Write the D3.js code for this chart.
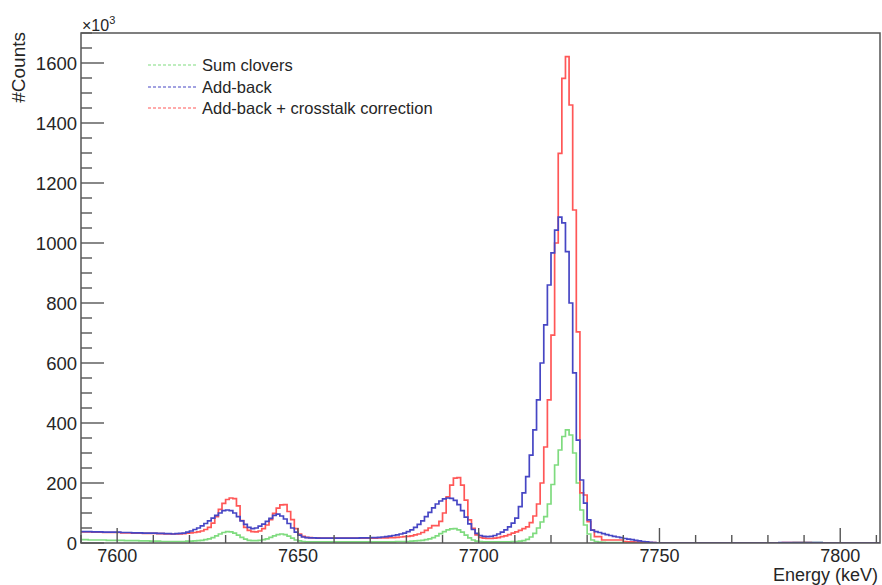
<!DOCTYPE html>
<html>
<head>
<meta charset="utf-8">
<script src="https://cdn.jsdelivr.net/npm/d3@7"></script>
<style>
  body { margin: 0; background: #fff; }
  svg text { font-family: "Liberation Sans", Arial, Helvetica, sans-serif; fill: #262626; }
</style>
</head>
<body>
<div id="chart"></div>
<script>
// Histogram binning: 1 keV bins, first bin starts at 7590 keV
var binStart = 7590,
  binWidth = 1;

// Counts per bin, in units of 10^3
var sumClovers = [
  11, 11, 10, 10, 10, 10, 10, 9, 9, 9, // 7590
  9, 9, 8, 8, 8, 8, 7, 7, 7, 6, // 7600
  6, 6, 5, 5, 5, 5, 5, 5, 5, 6, // 7610
  6, 7, 8, 9, 11, 14, 18, 24, 30, 35, // 7620
  38, 37, 33, 26, 19, 13, 9, 8, 8, 9, // 7630
  11, 14, 19, 24, 28, 30, 28, 23, 16, 10, // 7640
  7, 5, 4, 4, 4, 4, 4, 4, 4, 4, // 7650
  4, 4, 4, 4, 4, 4, 4, 4, 4, 4, // 7660
  4, 4, 4, 4, 4, 4, 4, 5, 5, 5, // 7670
  5, 6, 7, 8, 9, 11, 14, 18, 24, 31, // 7680
  38, 44, 47, 48, 44, 36, 26, 17, 10, 6, // 7690
  5, 4, 4, 4, 4, 4, 4, 4, 4, 5, // 7700
  5, 6, 8, 12, 20, 32, 50, 70, 88, 130, // 7710
  195, 260, 310, 355, 377, 360, 300, 200, 110, 60, // 7720
  30, 10, 5, 3, 2, 1, 1, 1, 1, 1, // 7730
  1, 1, 1, 1, 1, 0, 0, 0, 0, 0, // 7740
  0, 0, 0, 0, 0, 0, 0, 0, 0, 0, // 7750
  0, 0, 0, 0, 0, 0, 0, 0, 0, 0, // 7760
  0, 0, 0, 0, 0, 0, 0, 0, 0, 0, // 7770
  0, 0, 0, 0, 0, 0, 0, 1, 1, 1, // 7780
  1, 1, 1, 1, 1, 0, 0, 0, 0, 0, // 7790
  0, 0, 0, 0, 0, 0, 0, 0, 0, 0, // 7800
  0 // 7810
];

var addBack = [
  38, 38, 38, 37, 37, 37, 36, 36, 36, 36, // 7590
  36, 35, 35, 35, 34, 34, 34, 33, 33, 33, // 7600
  33, 32, 32, 31, 31, 30, 31, 32, 33, 36, // 7610
  40, 45, 50, 57, 65, 74, 83, 92, 100, 108, // 7620
  110, 108, 100, 88, 74, 62, 52, 48, 50, 56, // 7630
  63, 72, 82, 92, 96, 90, 80, 65, 50, 36, // 7640
  26, 20, 18, 17, 17, 16, 16, 16, 16, 16, // 7650
  16, 16, 16, 16, 16, 16, 16, 17, 17, 17, // 7660
  18, 18, 19, 20, 21, 23, 25, 27, 30, 33, // 7670
  38, 44, 52, 62, 74, 88, 102, 117, 130, 140, // 7680
  147, 150, 149, 142, 128, 108, 86, 64, 45, 32, // 7690
  25, 22, 21, 22, 25, 30, 36, 44, 54, 66, // 7700
  83, 121, 167, 221, 293, 377, 477, 600, 727, 860, // 7710
  967, 1043, 1086, 1067, 971, 800, 567, 343, 210, 133, // 7720
  77, 43, 38, 35, 31, 28, 25, 22, 20, 18, // 7730
  15, 13, 11, 9, 7, 5, 4, 2, 1, 0, // 7740
  0, 0, 0, 0, 0, 0, 0, 0, 0, 0, // 7750
  0, 0, 0, 0, 0, 0, 0, 0, 0, 0, // 7760
  0, 0, 0, 0, 0, 0, 0, 0, 0, 0, // 7770
  0, 0, 0, 1, 1, 1, 1, 1, 1, 1, // 7780
  1, 1, 1, 1, 1, 0, 0, 0, 0, 0, // 7790
  0, 0, 0, 0, 0, 0, 0, 0, 0, 0, // 7800
  0 // 7810
];

var addBackCrosstalk = [
  37, 37, 37, 36, 36, 36, 35, 35, 35, 35, // 7590
  35, 34, 34, 34, 33, 33, 33, 32, 32, 32, // 7600
  32, 31, 31, 30, 30, 30, 30, 30, 31, 33, // 7610
  34, 35, 37, 40, 45, 52, 66, 88, 112, 132, // 7620
  145, 150, 148, 124, 75, 52, 42, 38, 37, 40, // 7630
  48, 60, 78, 99, 116, 127, 128, 105, 78, 48, // 7640
  30, 22, 19, 18, 17, 17, 16, 16, 16, 16, // 7650
  16, 16, 16, 16, 16, 16, 16, 16, 16, 16, // 7660
  16, 16, 17, 17, 17, 18, 18, 19, 20, 21, // 7670
  22, 24, 27, 30, 35, 42, 50, 58, 58, 72, // 7680
  100, 154, 193, 216, 218, 193, 143, 77, 49, 27, // 7690
  19, 16, 15, 15, 16, 18, 21, 24, 28, 33, // 7700
  37, 42, 48, 54, 68, 90, 130, 200, 320, 477, // 7710
  693, 1000, 1299, 1549, 1621, 1460, 1110, 704, 167, 160, // 7720
  71, 43, 21, 21, 10, 10, 10, 10, 10, 10, // 7730
  5, 4, 4, 3, 3, 2, 2, 1, 1, 0, // 7740
  0, 0, 0, 0, 0, 0, 0, 0, 0, 0, // 7750
  0, 0, 0, 0, 0, 0, 0, 0, 0, 0, // 7760
  0, 0, 0, 0, 0, 0, 0, 0, 0, 0, // 7770
  0, 0, 0, 0, 1, 1, 1, 1, 1, 1, // 7780
  1, 1, 0, 0, 0, 0, 0, 0, 0, 0, // 7790
  0, 0, 0, 0, 0, 0, 0, 0, 0, 0, // 7800
  0 // 7810
];

var seriesNames = ['Sum clovers', 'Add-back', 'Add-back + crosstalk correction'];
var seriesColors = ['#7fdb7f', '#4646c4', '#ff5757'];

var xTickValues = [7600, 7650, 7700, 7750, 7800];
var yTickValues = [0, 200, 400, 600, 800, 1000, 1200, 1400, 1600];

var width = 882,
  height = 585,
  margin = { top: 33, right: 2, bottom: 42, left: 81 };

var xScale = d3.scaleLinear()
  .domain([binStart, binStart + sumClovers.length * binWidth])
  .range([margin.left, width - margin.right]);

var yScale = d3.scaleLinear()
  .domain([0, 1700])
  .range([height - margin.bottom, margin.top]);

var svg = d3.select('#chart').append('svg')
  .attr('width', width)
  .attr('height', height);

svg.append('clipPath').attr('id', 'plot-clip')
  .append('rect')
  .attr('x', margin.left)
  .attr('y', margin.top)
  .attr('width', xScale.range()[1] - margin.left)
  .attr('height', yScale.range()[0] - margin.top);

// Step line through bin edges (last bin closed at its upper edge)
function toSteps(values) {
  var pts = values.map(function(v, i) {
    return [binStart + i * binWidth, v];
  });
  pts.push([binStart + values.length * binWidth, values[values.length - 1]]);
  return pts;
}

var line = d3.line()
  .x(function(d) { return xScale(d[0]); })
  .y(function(d) { return yScale(d[1]); })
  .curve(d3.curveStepAfter);

var plot = svg.append('g').attr('clip-path', 'url(#plot-clip)');

// draw order: green, red, blue
[[sumClovers, 0], [addBackCrosstalk, 2], [addBack, 1]].forEach(function(s) {
  plot.append('path')
    .attr('d', line(toSteps(s[0])))
    .attr('fill', 'none')
    .attr('stroke', seriesColors[s[1]])
    .attr('stroke-width', 1.7)
    .attr('stroke-linejoin', 'miter');
});

// Axes: ROOT style, ticks pointing into the frame
var axisColor = '#555';

var xMinor = d3.range(7590, 7812, 10);

var gx = svg.append('g');
gx.selectAll('line')
  .data(xMinor)
  .enter().append('line')
  .attr('x1', function(d) { return xScale(d); })
  .attr('x2', function(d) { return xScale(d); })
  .attr('y1', yScale(0))
  .attr('y2', function(d) { return yScale(0) - (d % 50 === 0 ? 15 : 8); })
  .attr('stroke', axisColor)
  .attr('stroke-width', 1.4);

gx.selectAll('text')
  .data(xTickValues)
  .enter().append('text')
  .attr('x', function(d) { return xScale(d); })
  .attr('y', 562)
  .attr('text-anchor', 'middle')
  .style('font-size', '18px')
  .text(function(d) { return d; });

var gy = svg.append('g');
gy.selectAll('line')
  .data(d3.range(0, 1701, 50))
  .enter().append('line')
  .attr('x1', margin.left)
  .attr('x2', function(d) { return margin.left + (d % 200 === 0 ? 23 : 11); })
  .attr('y1', function(d) { return yScale(d); })
  .attr('y2', function(d) { return yScale(d); })
  .attr('stroke', axisColor)
  .attr('stroke-width', 1.4);

gy.selectAll('text')
  .data(yTickValues)
  .enter().append('text')
  .attr('x', 77)
  .attr('y', function(d) { return yScale(d); })
  .attr('dy', '0.36em')
  .attr('text-anchor', 'end')
  .style('font-size', '18.5px')
  .text(function(d) { return d; });

// Frame
svg.append('rect')
  .attr('x', margin.left)
  .attr('y', margin.top)
  .attr('width', xScale.range()[1] - margin.left)
  .attr('height', yScale.range()[0] - margin.top)
  .attr('fill', 'none')
  .attr('stroke', axisColor)
  .attr('stroke-width', 1.5);

// Exponent label
var expo = svg.append('text')
  .attr('x', 82)
  .attr('y', 31)
  .style('font-size', '16px');
expo.append('tspan').text('\u00d710');
expo.append('tspan').attr('dy', -7).style('font-size', '11px').text('3');

// Axis titles
svg.append('text')
  .attr('transform', 'translate(25,32) rotate(-90)')
  .attr('text-anchor', 'end')
  .style('font-size', '19px')
  .text('#Counts');

svg.append('text')
  .attr('x', 878)
  .attr('y', 581)
  .attr('text-anchor', 'end')
  .style('font-size', '18px')
  .text('Energy (keV)');

// Legend
var legend = svg.append('g')
  .selectAll('g')
  .data(seriesNames)
  .enter().append('g')
  .attr('transform', function(d, i) { return 'translate(0,' + [65, 87, 108][i] + ')'; });

legend.append('line')
  .attr('x1', 148)
  .attr('x2', 197)
  .attr('stroke', function(d, i) { return seriesColors[i]; })
  .attr('stroke-width', 1.2)
  .attr('stroke-dasharray', '3,2');

legend.append('text')
  .attr('x', 202)
  .attr('dy', '0.35em')
  .style('font-size', '16.5px')
  .text(function(d) { return d; });
</script>
</body>
</html>
